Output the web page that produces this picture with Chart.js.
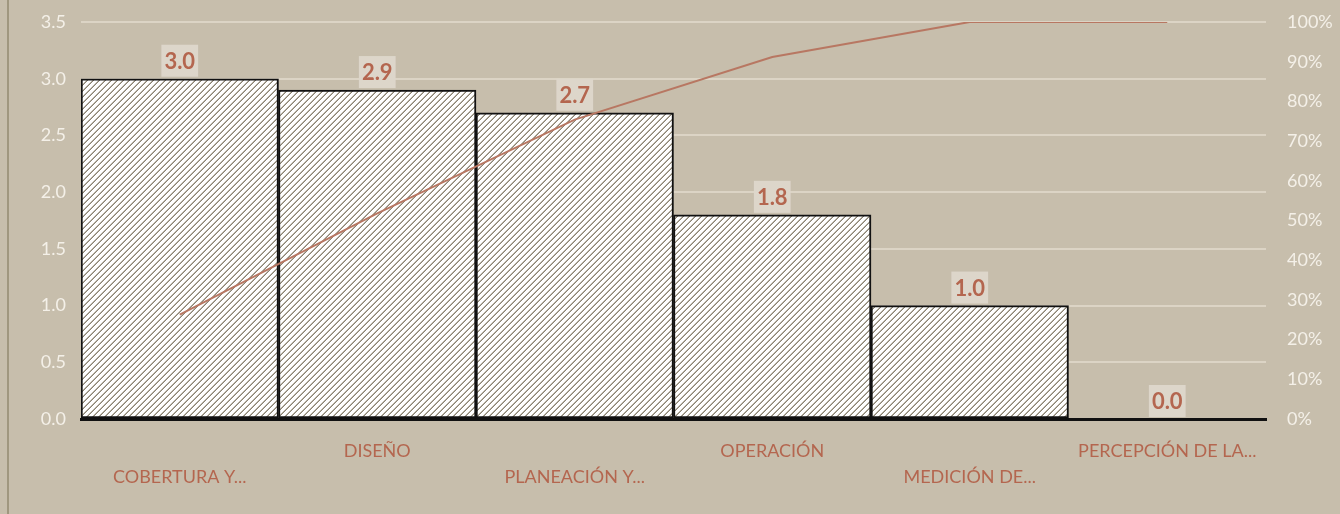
<!DOCTYPE html>
<html lang="es">
<head>
<meta charset="utf-8">
<title>Pareto</title>
<script src="https://cdn.jsdelivr.net/npm/chart.js@4.4.1/dist/chart.umd.min.js"></script>
<style>
    html, body { margin: 0; padding: 0; background: #c7beac; }
    #contenedor { position: relative; width: 1340px; height: 514px; overflow: hidden; }
    #borde { position: absolute; left: 7px; top: 0; width: 2px; height: 514px; background: #a0977f; }
    #grafica { position: absolute; left: 0; top: 0; }
</style>
</head>
<body>
<div id="contenedor">
    <div id="borde"></div>
    <canvas id="grafica" width="1340" height="514"></canvas>
</div>
<script>
// Datos
const categorias = ['COBERTURA Y...', 'DISEÑO', 'PLANEACIÓN Y...', 'OPERACIÓN', 'MEDICIÓN DE...', 'PERCEPCIÓN DE LA...'];
const valores = [3.0, 2.9, 2.7, 1.8, 1.0, 0.0];
const acumulado = [0.263, 0.518, 0.754, 0.912, 1.0, 1.0];

const colorTexto = '#b4664f';
const colorEjes = '#f4f0e8';
const colorRejilla = '#dcd4c5';

// Patron rayado de las barras
const crearRayado = () => {
    const n = 6;
    const c = document.createElement('canvas');
    c.width = n;
    c.height = n;
    const cx = c.getContext('2d');
    const img = cx.createImageData(n, n);
    for (let y = 0; y < n; y++) {
        for (let x = 0; x < n; x++) {
            const i = (y * n + x) * 4;
            const k = (x + y) % n;
            let v = [255, 255, 255];
            if (k === 5) v = [138, 131, 115];
            else if (k === 4) v = [186, 180, 167];
            img.data[i] = v[0];
            img.data[i + 1] = v[1];
            img.data[i + 2] = v[2];
            img.data[i + 3] = 255;
        }
    }
    cx.putImageData(img, 0, 0);
    return cx.createPattern(c, 'repeat');
};

// Etiquetas de valor encima de cada barra
const etiquetasBarras = {
    id: 'etiquetasBarras',
    afterDatasetsDraw(chart) {
        const meta = chart.getDatasetMeta(1);
        const ctx = chart.ctx;
        ctx.save();
        ctx.font = 'bold 22px Lato';
        ctx.textAlign = 'center';
        ctx.textBaseline = 'middle';
        meta.data.forEach((barra, i) => {
            const texto = valores[i].toFixed(1);
            const ancho = ctx.measureText(texto).width + 6;
            const alto = 32;
            const abajo = barra.y - 2;
            ctx.fillStyle = '#ddd6ca';
            ctx.fillRect(barra.x - ancho / 2, abajo - alto, ancho, alto);
            ctx.fillStyle = colorTexto;
            ctx.fillText(texto, barra.x, abajo - alto / 2 + 1);
        });
        ctx.restore();
    }
};

// El padding de los ticks no debe empujar el area de la grafica
const ajustarVertical = ancho => escala => {
    escala.width = ancho;
    escala.paddingTop = 10;
    escala.paddingBottom = 10;
};

const ctx = document.getElementById('grafica').getContext('2d');
new Chart(ctx, {
    data: {
        labels: categorias,
        datasets: [
            {
                type: 'line',
                label: 'Acumulado',
                data: acumulado,
                yAxisID: 'y1',
                borderColor: '#b87762',
                borderWidth: 2,
                pointRadius: 0,
                tension: 0,
                order: 0
            },
            {
                type: 'bar',
                label: 'Total',
                data: valores,
                yAxisID: 'y',
                backgroundColor: crearRayado(),
                borderColor: '#111111',
                borderWidth: 2,
                borderSkipped: false,
                categoryPercentage: 1,
                barPercentage: 1,
                order: 1
            }
        ]
    },
    options: {
        responsive: false,
        animation: false,
        devicePixelRatio: 1,
        layout: { padding: { top: 22, left: 0, right: 0, bottom: 0 } },
        plugins: { legend: { display: false }, tooltip: { enabled: false } },
        scales: {
            x: {
                offset: true,
                grid: { display: false },
                border: { display: true, color: '#111111', width: 3 },
                ticks: {
                    autoSkip: false,
                    maxRotation: 0,
                    minRotation: 0,
                    padding: 11,
                    color: colorTexto,
                    font: { family: 'Lato', size: 18, lineHeight: '26px' },
                    callback: (v, i) => (i % 2 === 0 ? ['', categorias[i]] : categorias[i])
                },
                afterFit: escala => { escala.height = 95; }
            },
            y: {
                position: 'left',
                min: 0,
                max: 3.5,
                ticks: {
                    stepSize: 0.5,
                    padding: 15,
                    color: colorEjes,
                    font: { family: 'Lato', size: 18 },
                    callback: v => v.toFixed(1)
                },
                grid: {
                    drawTicks: false,
                    lineWidth: 2,
                    color: c => (c.tick && c.tick.value === 0 ? 'rgba(0,0,0,0)' : colorRejilla)
                },
                border: { display: false },
                afterFit: ajustarVertical(81)
            },
            y1: {
                position: 'right',
                min: 0,
                max: 1,
                ticks: {
                    stepSize: 0.1,
                    padding: 21,
                    color: colorEjes,
                    font: { family: 'Lato', size: 18 },
                    callback: v => `${Math.round(v * 100)}%`
                },
                grid: { display: false, drawTicks: false },
                border: { display: false },
                afterFit: ajustarVertical(74)
            }
        }
    },
    plugins: [etiquetasBarras]
});
</script>
</body>
</html>
